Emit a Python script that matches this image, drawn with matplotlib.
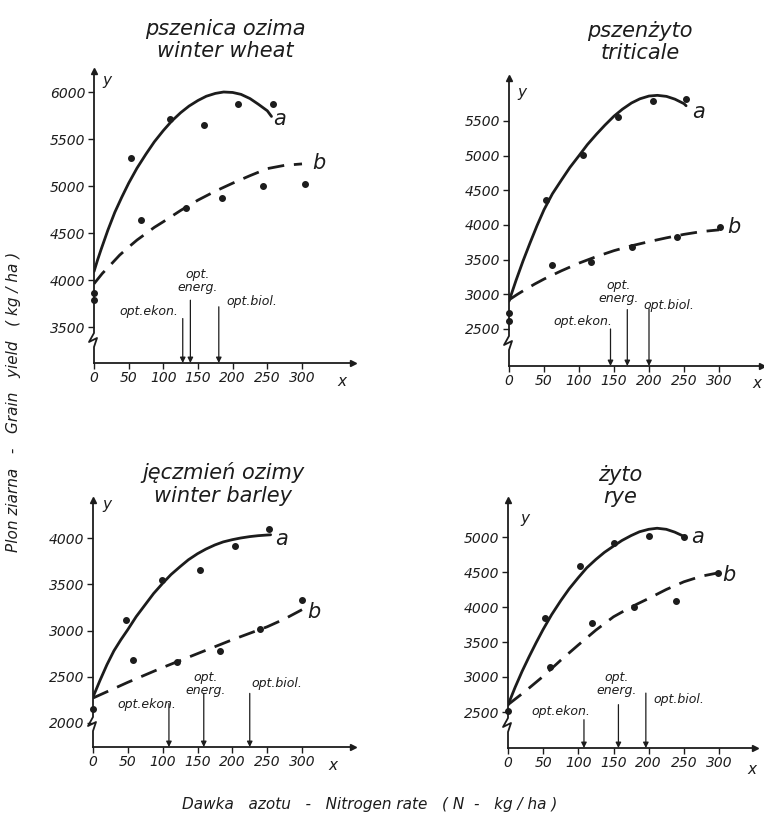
import matplotlib
matplotlib.use("Agg")
import matplotlib.pyplot as plt

W, H = 764, 817
INK = "#1c1c1c"
plt.rcParams['font.family'] = ['DejaVu Sans']
plt.rcParams['font.style'] = 'italic'
plt.rcParams['text.color'] = INK
plt.rcParams['xtick.color'] = INK
plt.rcParams['ytick.color'] = INK

# ---------------- data ----------------
# winter wheat
wheat_a_x = [0, 5, 10, 20, 30, 40, 50, 62, 75, 87, 100, 112, 125, 137, 150, 162, 175, 187,
             200, 212, 225, 237, 250, 256]
wheat_a_y = [4090, 4210, 4320, 4530, 4720, 4880, 5030, 5190, 5340, 5470, 5590, 5690, 5780,
             5850, 5910, 5955, 5985, 6000, 5995, 5975, 5930, 5870, 5800, 5740]
wheat_b_x = [0, 12, 25, 37, 50, 62, 75, 87, 100, 125, 150, 175, 200, 225, 250, 275, 300]
wheat_b_y = [3960, 4070, 4170, 4265, 4350, 4425, 4495, 4560, 4620, 4740, 4850, 4945, 5030,
             5110, 5185, 5220, 5235]
wheat_pa_x = [0, 54, 109, 158, 207, 258]
wheat_pa_y = [3860, 5296, 5712, 5644, 5872, 5876]
wheat_pb_x = [0, 68, 133, 185, 244, 304]
wheat_pb_y = [3790, 4638, 4763, 4869, 5004, 5019]
wheat_opt_x = [128, 139, 180]        # ekon, energ, biol
wheat_opt_top = [3590, 3785, 3715]

# triticale
trit_a_x = [0, 5, 10, 20, 30, 40, 50, 62, 75, 87, 100, 112, 125, 137, 150, 162, 175, 187,
            200, 212, 225, 237, 250, 253]
trit_a_y = [2900, 3050, 3200, 3480, 3740, 3990, 4220, 4450, 4650, 4830, 5000, 5160, 5310,
            5440, 5570, 5670, 5760, 5820, 5860, 5870, 5855, 5815, 5750, 5720]
trit_b_x = [0, 12, 25, 37, 50, 75, 100, 125, 150, 175, 200, 225, 250, 275, 300]
trit_b_y = [2920, 3000, 3080, 3150, 3220, 3340, 3450, 3545, 3630, 3700, 3760, 3815, 3865,
            3905, 3930]
trit_pa_x = [0, 53, 105, 156, 206, 253]
trit_pa_y = [2730, 4360, 5006, 5557, 5783, 5821]
trit_pb_x = [0, 62, 117, 176, 240, 301]
trit_pb_y = [2610, 3416, 3473, 3689, 3832, 3976]
trit_opt_x = [145, 169, 200]
trit_opt_top = [2500, 2780, 2790]

# winter barley
barley_a_x = [0, 10, 20, 30, 40, 50, 62, 75, 87, 100, 112, 125, 137, 150, 162, 175, 187,
              200, 212, 225, 237, 255]
barley_a_y = [2280, 2460, 2630, 2780, 2900, 3010, 3150, 3280, 3400, 3510, 3605, 3690, 3765,
              3830, 3880, 3925, 3958, 3982, 4000, 4015, 4025, 4035]
barley_b_x = [0, 50, 100, 150, 200, 250, 275, 300]
barley_b_y = [2270, 2440, 2600, 2750, 2900, 3040, 3125, 3225]
barley_pa_x = [0, 47, 99, 153, 204, 253]
barley_pa_y = [2155, 3110, 3550, 3650, 3910, 4101]
barley_pb_x = [58, 120, 182, 240, 300]
barley_pb_y = [2685, 2659, 2778, 3016, 3326]
barley_opt_x = [109, 159, 225]
barley_opt_top = [2210, 2320, 2320]

# rye
rye_a_x = [0, 10, 20, 30, 40, 50, 62, 75, 87, 100, 112, 125, 137, 150, 162, 175, 187, 200,
           212, 225, 237, 250]
rye_a_y = [2600, 2850, 3080, 3290, 3490, 3680, 3890, 4090, 4260, 4420, 4560, 4680, 4780,
           4870, 4950, 5020, 5075, 5110, 5125, 5110, 5070, 5010]
rye_b_x = [0, 25, 50, 75, 100, 125, 150, 175, 200, 225, 250, 275, 300]
rye_b_y = [2605, 2800, 3010, 3240, 3458, 3670, 3860, 4000, 4122, 4250, 4360, 4440, 4490]
rye_pa_x = [0, 52, 103, 150, 200, 250]
rye_pa_y = [2512, 3838, 4587, 4915, 5014, 5000]
rye_pb_x = [60, 119, 179, 239, 298]
rye_pb_y = [3150, 3776, 4004, 4084, 4488]
rye_opt_x = [108, 157, 196]
rye_opt_top = [2390, 2605, 2770]

x_ticks = [0, 50, 100, 150, 200, 250, 300]
wheat_yticks = [3500, 4000, 4500, 5000, 5500, 6000]
trit_yticks = [2500, 3000, 3500, 4000, 4500, 5000, 5500]
barley_yticks = [2000, 2500, 3000, 3500, 4000]
rye_yticks = [2500, 3000, 3500, 4000, 4500, 5000]

opt_names = ["opt.ekon.", "opt.\nenerg.", "opt.biol."]

# ---------------- layout (pixels of the 764x817 picture) ----------------
panels = [
    dict(title="pszenica ozima\nwinter wheat", tpos=(225, 40),
         box=(94, 353, 71, 363), x300=302, yref=(6000, 92, 3500, 327),
         a=(wheat_a_x, wheat_a_y), b=(wheat_b_x, wheat_b_y),
         pa=(wheat_pa_x, wheat_pa_y), pb=(wheat_pb_x, wheat_pb_y),
         opt=(wheat_opt_x, wheat_opt_top), yticks=wheat_yticks,
         optlab=[(79, 3660), (150, 3990), (227, 3767)],
         alab=(268, 5712), blab=(324, 5243), ylet=(107, 80), xlet=(342, 381)),
    dict(title="pszenżyto\ntriticale", tpos=(640, 42),
         box=(509, 762, 78, 366), x300=719, yref=(5500, 121, 2500, 329),
         a=(trit_a_x, trit_a_y), b=(trit_b_x, trit_b_y),
         pa=(trit_pa_x, trit_pa_y), pb=(trit_pb_x, trit_pb_y),
         opt=(trit_opt_x, trit_opt_top), yticks=trit_yticks,
         optlab=[(105, 2610), (156, 3040), (229, 2836)],
         alab=(271, 5629), blab=(321, 3976), ylet=(522, 93), xlet=(757, 383)),
    dict(title="jęczmień ozimy\nwinter barley", tpos=(223, 484),
         box=(93, 353, 500, 747), x300=302, yref=(4000, 538, 2000, 723),
         a=(barley_a_x, barley_a_y), b=(barley_b_x, barley_b_y),
         pa=(barley_pa_x, barley_pa_y), pb=(barley_pb_x, barley_pb_y),
         opt=(barley_opt_x, barley_opt_top), yticks=barley_yticks,
         optlab=[(77, 2202), (162, 2420), (264, 2432)],
         alab=(271, 3993), blab=(317, 3200), ylet=(107, 505), xlet=(333, 765)),
    dict(title="żyto\nrye", tpos=(620, 486),
         box=(508, 755, 500, 748), x300=719, yref=(5000, 537, 2500, 712),
         a=(rye_a_x, rye_a_y), b=(rye_b_x, rye_b_y),
         pa=(rye_pa_x, rye_pa_y), pb=(rye_pb_x, rye_pb_y),
         opt=(rye_opt_x, rye_opt_top), yticks=rye_yticks,
         optlab=[(75, 2509), (155, 2900), (243, 2675)],
         alab=(269, 5000), blab=(314, 4454), ylet=(525, 518), xlet=(752, 770)),
]

fig = plt.figure(figsize=(W / 100, H / 100), dpi=100)
fig.patch.set_facecolor("white")


def fx(x):
    return x / W


def fy(y):
    return 1 - y / H


for p in panels:
    left, right, top, bottom = p['box']
    wpx, hpx = right - left, bottom - top
    ax = fig.add_axes([fx(left), fy(bottom), wpx / W, hpx / H])
    ax.patch.set_alpha(0)
    kx = (p['x300'] - left) / 300.0
    ax.set_xlim(0, wpx / kx)
    v1, p1, v2, p2 = p['yref']
    ky = (p2 - p1) / float(v1 - v2)
    ymin = v2 - (bottom - p2) / ky
    ax.set_ylim(ymin, v1 + (p1 - top) / ky)

    for s in ['top', 'right', 'left']:
        ax.spines[s].set_visible(False)
    ax.spines['bottom'].set_linewidth(1.3)
    ax.spines['bottom'].set_color(INK)

    # y axis with the little zig-zag break near the bottom
    zz = [(0, hpx), (0, 30), (-5, 21), (3, 25), (0, 16), (0, 0)]
    ax.plot([q[0] / wpx for q in zz], [q[1] / hpx for q in zz],
            transform=ax.transAxes, color=INK, lw=1.3, clip_on=False)
    ax.plot([0], [1], marker='^', ms=5, color=INK, transform=ax.transAxes, clip_on=False)
    ax.plot([1], [0], marker='>', ms=5, color=INK, transform=ax.transAxes, clip_on=False)

    ax.set_xticks(x_ticks)
    ax.set_yticks(p['yticks'])
    ax.tick_params(direction='out', length=4, width=1, labelsize=10, pad=2)

    # fitted curves
    ax.plot(p['a'][0], p['a'][1], '-', color=INK, lw=2.0, solid_capstyle='round',
            solid_joinstyle='round')
    ax.plot(p['b'][0], p['b'][1], color=INK, lw=2.0, dashes=(6, 3.5))
    # observations
    ax.plot(p['pa'][0], p['pa'][1], 'o', ms=4, color=INK, clip_on=False)
    ax.plot(p['pb'][0], p['pb'][1], 'o', ms=4, color=INK, clip_on=False)

    # optimum arrows
    for xo, yt, lab, lp in zip(p['opt'][0], p['opt'][1], opt_names, p['optlab']):
        ax.annotate('', xy=(xo, ymin), xytext=(xo, yt),
                    arrowprops=dict(arrowstyle='-|>', lw=0.9, color=INK,
                                    mutation_scale=8, shrinkA=0, shrinkB=0))
        ax.text(lp[0], lp[1], lab, fontsize=9, ha='center', va='center',
                linespacing=1.0)

    ax.text(p['alab'][0], p['alab'][1], 'a', fontsize=15, ha='center', va='center')
    ax.text(p['blab'][0], p['blab'][1], 'b', fontsize=15, ha='center', va='center')

    fig.text(fx(p['tpos'][0]), fy(p['tpos'][1]), p['title'], fontsize=15,
             ha='center', va='center', linespacing=1.15)
    fig.text(fx(p['ylet'][0]), fy(p['ylet'][1]), 'y', fontsize=11, ha='center', va='center')
    fig.text(fx(p['xlet'][0]), fy(p['xlet'][1]), 'x', fontsize=11, ha='center', va='center')

fig.text(fx(14), fy(402), "Plon ziarna   -   Grain   yield   ( kg / ha )", rotation=90,
         fontsize=11, ha='center', va='center')
fig.text(fx(370), fy(805), "Dawka   azotu   -   Nitrogen rate   ( N  -   kg / ha )",
         fontsize=11, ha='center', va='center')

fig.savefig("out.png", dpi=100, facecolor="white")
